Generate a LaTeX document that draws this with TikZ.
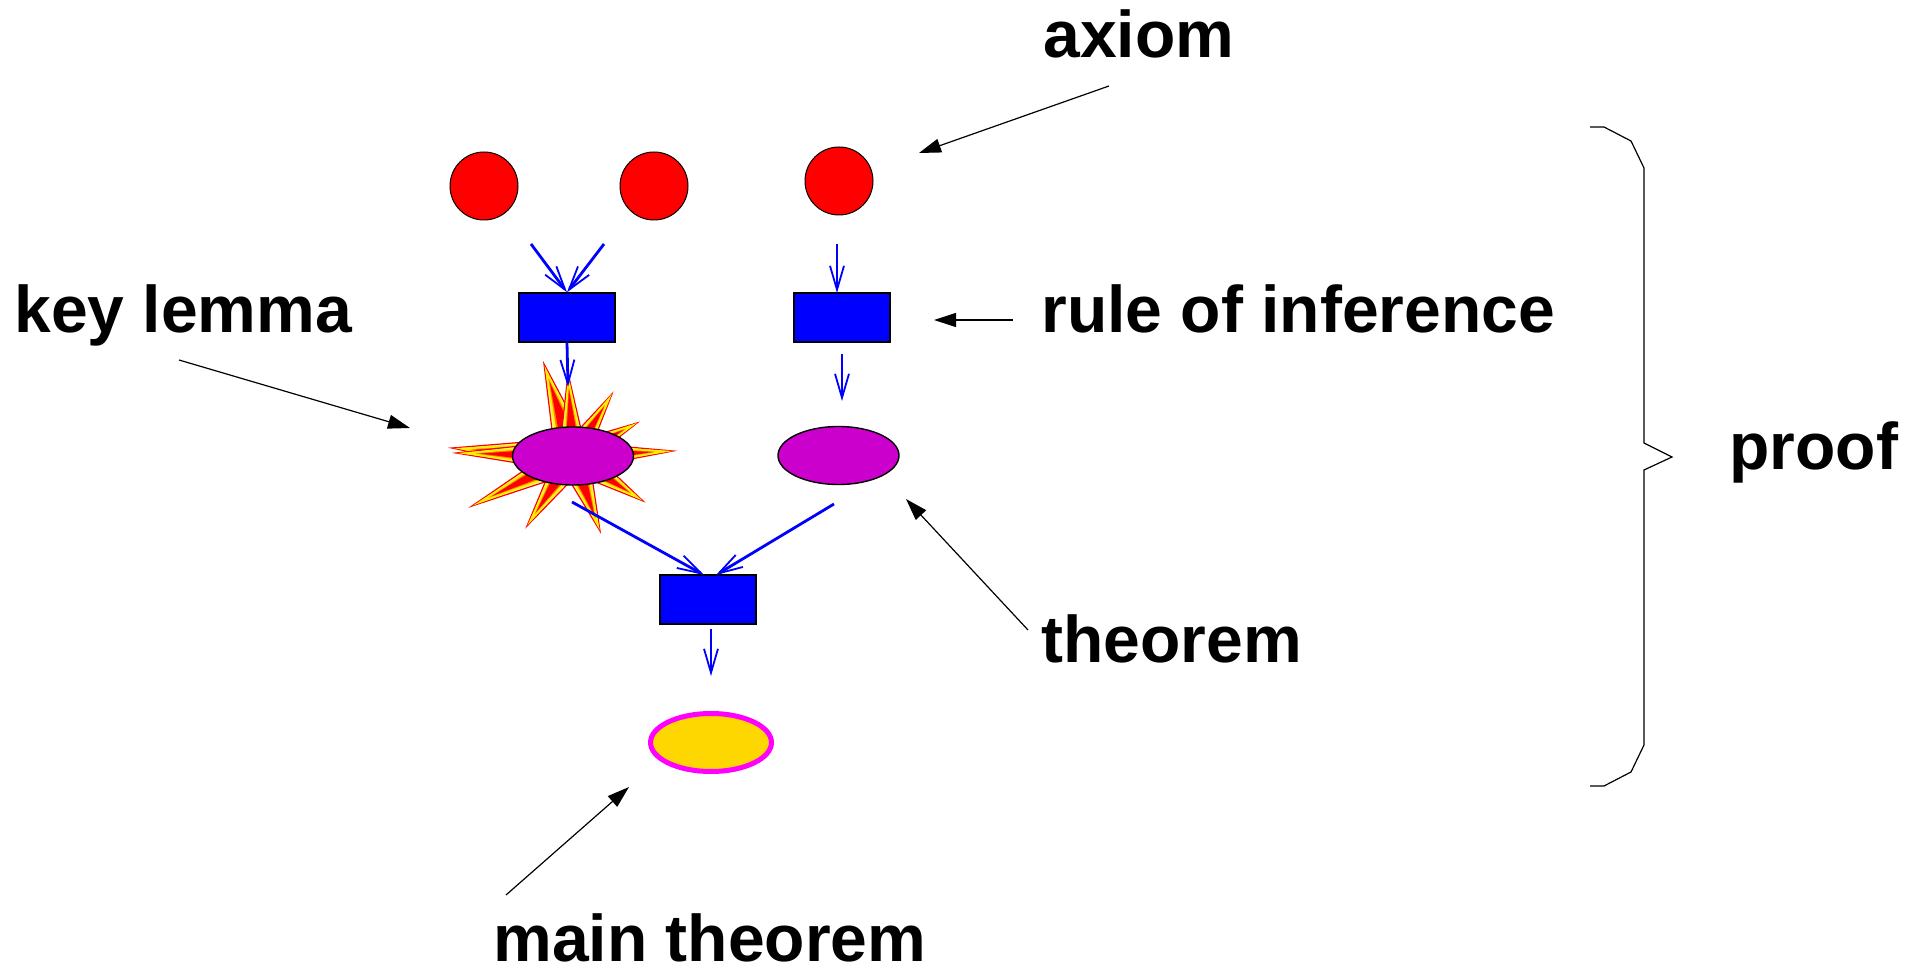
\documentclass[tikz,border=0pt]{standalone}
\usepackage{fontspec}
\setmainfont{Liberation Sans}
\usetikzlibrary{arrows.meta,calc,shapes.geometric}
\definecolor{thmmag}{RGB}{204,0,204}
\definecolor{goldfill}{RGB}{255,215,0}
\definecolor{pinkline}{RGB}{255,0,255}
\begin{document}
\begin{tikzpicture}[x=0.5pt,y=-0.5pt,
  lbl/.style={anchor=base west,inner sep=0pt,font=\fontsize{33}{36}\selectfont\bfseries},
  axiomnode/.style={circle,draw=black,line width=0.5pt,fill=red,minimum size=34pt,inner sep=0pt},
  rulebox/.style={rectangle,draw=black,line width=0.7pt,fill=blue,minimum width=48pt,minimum height=24.5pt,inner sep=0pt},
  thmnode/.style={ellipse,draw=black,line width=0.7pt,fill=thmmag,minimum width=60.5pt,minimum height=29pt,inner sep=0pt},
  mainnode/.style={ellipse,draw=pinkline,line width=2.5pt,fill=goldfill,minimum width=60.5pt,minimum height=29pt,inner sep=0pt},
  flow/.style={draw=blue,line width=1.4pt,-{Straight Barb[length=12pt,width=7pt,line width=0.9pt]}},
  pointer/.style={draw=black,line width=0.6pt,-{Triangle[length=11pt,width=7pt]}}
]
\useasboundingbox (0,0) rectangle (1907,972);

% axioms
\node[axiomnode] (ax1) at (484,186) {};
\node[axiomnode] (ax2) at (654,186) {};
\node[axiomnode] (ax3) at (839,181) {};

% rules of inference
\node[rulebox] (r1) at (567,317.5) {};
\node[rulebox] (r2) at (842,317.5) {};
\node[rulebox] (r3) at (708,599.5) {};

% starburst behind key lemma
\coordinate (sc) at (573,456);
\foreach \tx/\ty/\hw in {452/448/9, 456/453/8, 544/364/9, 568/373/7, 612/394/7, 637/423/7, 673/451/7, 643/501/8, 600/531/8, 527/526/8, 472/506/8} {
  \coordinate (tp) at (\tx,\ty);
  \filldraw[fill=yellow!45, draw=red, line width=0.6pt]
    (tp) -- ($(sc)!\hw pt!90:(tp)$) -- ($(sc)!\hw pt!-90:(tp)$) -- cycle;
  \filldraw[fill=orange, draw=yellow, line width=0.9pt]
    ($(sc)!0.92!(tp)$) -- ($(sc)!\hw pt*0.75!90:(tp)$) -- ($(sc)!\hw pt*0.75!-90:(tp)$) -- cycle;
  \fill[red]
    ($(sc)!0.8!(tp)$) -- ($(sc)!\hw pt*0.55!90:(tp)$) -- ($(sc)!\hw pt*0.55!-90:(tp)$) -- cycle;
}

% theorems
\node[thmnode] (lemma) at (sc) {};
\node[thmnode] (thm) at (838.5,455.5) {};
\node[mainnode] (main) at (711,742.5) {};

% flow arrow ends
\coordinate (a1s) at (531,244);
\coordinate (a2s) at (604,244);
\coordinate (a3s) at (837,244);
\coordinate (a3e) at (837,293);
\coordinate (a4e) at (568,387);
\coordinate (a5s) at (842,354);
\coordinate (a5e) at (842,401);
\coordinate (a6s) at (572,502);
\coordinate (a6e) at (704,575);
\coordinate (a7s) at (834,504);
\coordinate (a7e) at (716,575);
\coordinate (a8s) at (711,629);
\coordinate (a8e) at (711,676);

\draw[flow] (a1s) -- (r1.north);
\draw[flow] (a2s) -- (r1.north);
\draw[flow] (a3s) -- (a3e);
\draw[flow] (r1.south) -- (a4e);
\draw[flow] (a5s) -- (a5e);
\draw[flow] (a6s) -- (a6e);
\draw[flow] (a7s) -- (a7e);
\draw[flow] (a8s) -- (a8e);

% labels
\node[lbl] (laxiom) at (1043,58) {axiom};
\node[lbl] (lkey) at (14,333) {key lemma};
\node[lbl] (lrule) at (1041,333) {rule of inference};
\node[lbl] (lthm) at (1041,663) {theorem};
\node[lbl] (lmain) at (493,961) {main theorem};
\node[lbl] (lproof) at (1729,470) {proof};

% pointer arrows
\coordinate (p1s) at (1109,86);   \coordinate (p1e) at (919,153);
\coordinate (p2s) at (1013,320);  \coordinate (p2e) at (934,320);
\coordinate (p3s) at (179,360);   \coordinate (p3e) at (410,428);
\coordinate (p4s) at (1028,630);  \coordinate (p4e) at (906,499);
\coordinate (p5s) at (506,895);   \coordinate (p5e) at (629,787);
\draw[pointer] (p1s) -- (p1e);
\draw[pointer] (p2s) -- (p2e);
\draw[pointer] (p3s) -- (p3e);
\draw[pointer] (p4s) -- (p4e);
\draw[pointer] (p5s) -- (p5e);

% brace
\draw[black,line width=0.6pt] (1590,127) -- (1604,127) -- (1631,141) -- (1644,168) -- (1644,443) -- (1672,457) -- (1644,470) -- (1644,745) -- (1631,772) -- (1604,786) -- (1590,786);
\end{tikzpicture}
\end{document}
